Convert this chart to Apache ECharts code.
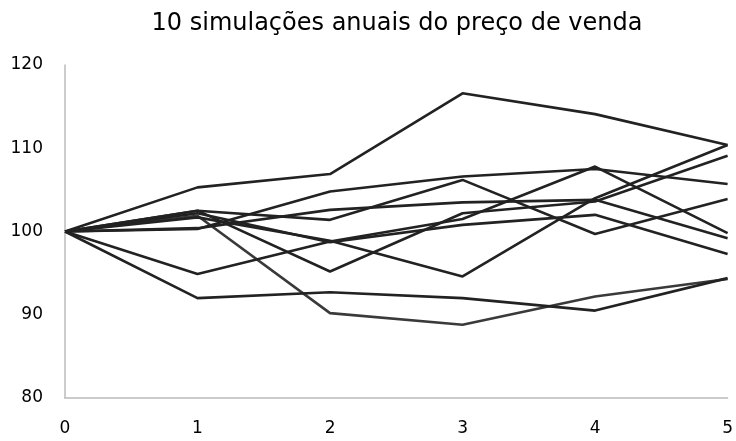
<!DOCTYPE html>
<html>
<head>
<meta charset="utf-8">
<script src="https://cdn.jsdelivr.net/npm/echarts@6/dist/echarts.min.js"></script>
<style>
html, body { margin: 0; padding: 0; background: #fff; }
#box { width: 736px; height: 441px; }
</style>
</head>
<body>
<div id="box"></div>
<script>
// anos da simulação
var anos = [0, 1, 2, 3, 4, 5];

// 10 simulações
var sim1 = [100, 105.3, 106.9, 116.6, 114.1, 110.4];
var sim2 = [100, 101.9, 90.2, 88.8, 92.2, 94.3];
var sim3 = [100, 92.0, 92.7, 92.0, 90.5, 94.4];
var sim4 = [100, 94.9, 98.8, 101.5, 107.8, 99.8];
var sim5 = [100, 100.3, 104.8, 106.6, 107.5, 105.7];
var sim6 = [100, 100.4, 102.6, 103.5, 103.8, 99.2];
var sim7 = [100, 102.5, 101.4, 106.2, 99.7, 103.9];
var sim8 = [100, 102.5, 95.2, 102.2, 103.6, 109.1];
var sim9 = [100, 101.7, 98.9, 94.6, 104.0, 110.4];
var sim10 = [100, 102.2, 98.7, 100.8, 102.0, 97.3];

var simulacoes = [sim1, sim2, sim3, sim4, sim5, sim6, sim7, sim8, sim9, sim10];
var cores = ['#222', '#3a3a3a', '#222', '#222', '#222', '#222', '#222', '#222', '#222', '#222'];

var fonte = 'DejaVu Sans';
var myChart = echarts.init(document.getElementById('box'));

var series = simulacoes.map(function(s, i) {
	return {
		name: 'Simulação ' + (i + 1),
		type: 'line',
		data: s.map(function(v, j) { return [anos[j], v]; }),
		symbol: 'none',
		lineStyle: { color: cores[i], width: 2.6 },
		animation: false
	};
});

var option = {
	title: {
		text: '10 simulações anuais do preço de venda',
		left: 392,
		textAlign: 'center',
		top: 7,
		textStyle: { fontFamily: fonte, fontSize: 24, fontWeight: 'normal', color: '#000' }
	},
	grid: { left: 65, right: 6, top: 65, bottom: 43 },
	xAxis: {
		type: 'value',
		min: 0,
		max: 5,
		interval: 1,
		axisLine: { lineStyle: { color: '#bbb', width: 1.5 } },
		axisTick: { show: false },
		splitLine: { show: false },
		axisLabel: { color: '#000', fontFamily: fonte, fontSize: 17, margin: 22 }
	},
	yAxis: {
		type: 'value',
		min: 80,
		max: 120,
		interval: 10,
		axisLine: { show: true, lineStyle: { color: '#bbb', width: 1.5 } },
		axisTick: { show: false },
		splitLine: { show: false },
		axisLabel: { color: '#000', fontFamily: fonte, fontSize: 17, margin: 22 }
	},
	series: series
};

myChart.setOption(option);
</script>
</body>
</html>
